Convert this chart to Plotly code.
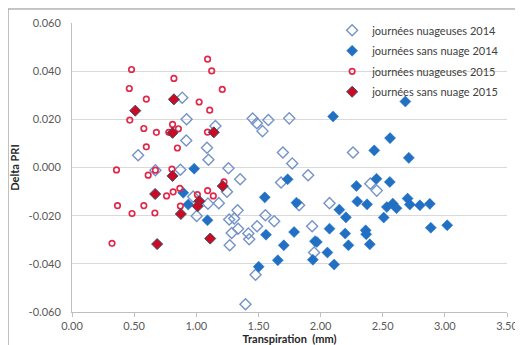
import plotly.graph_objects as go

# journées nuageuses 2014 (open blue diamonds)
x_nuag_2014 = [0.532, 0.887, 0.922, 1.154, 0.919, 1.086, 1.098, 0.872, 1.259, 1.454, 1.487, 1.580,
               1.748, 1.533, 1.697, 1.772, 1.353, 1.900, 1.682, 0.975, 1.094, 1.181, 1.247, 1.003,
               1.332, 1.265, 1.305, 1.336, 1.285, 1.419, 1.426, 1.269, 1.489, 1.556, 1.627, 1.477,
               1.396, 2.261, 2.400, 2.452, 2.072, 1.827, 1.932, 1.948, 0.671]
y_nuag_2014 = [0.0051, 0.0290, 0.0200, 0.0172, 0.0112, 0.0082, 0.0032, -0.0009, -0.0003, 0.0203,
               0.0184, 0.0197, 0.0204, 0.0151, 0.0062, 0.0017, -0.0049, -0.0032, -0.0062, -0.0121,
               -0.0150, -0.0148, -0.0101, -0.0201, -0.0178, -0.0216, -0.0212, -0.0254, -0.0272,
               -0.0274, -0.0298, -0.0323, -0.0244, -0.0198, -0.0223, -0.0445, -0.0568, 0.0062,
               -0.0067, -0.0096, -0.0148, -0.0157, -0.0244, -0.0353, -0.0011]

# journées sans nuage 2014 (filled blue diamonds)
x_sans_2014 = [2.101, 2.682, 2.559, 2.432, 2.710, 0.983, 1.735, 2.450, 2.557, 2.288, 2.296, 2.374,
               2.151, 2.204, 2.508, 2.533, 2.581, 2.611, 2.700, 2.718, 2.799, 2.879, 2.887, 3.019,
               2.072, 1.955, 1.970, 2.198, 2.363, 2.367, 2.224, 2.396, 2.055, 1.938, 2.109, 1.551,
               1.806, 1.561, 1.787, 1.704, 1.656, 1.502, 0.895, 0.935, 1.090]
y_sans_2014 = [0.0212, 0.0274, 0.0122, 0.0071, 0.0040, -0.0005, -0.0049, -0.0047, -0.0060, -0.0077,
               -0.0141, -0.0153, -0.0175, -0.0207, -0.0208, -0.0164, -0.0150, -0.0169, -0.0129,
               -0.0154, -0.0157, -0.0151, -0.0250, -0.0240, -0.0254, -0.0306, -0.0309, -0.0274,
               -0.0261, -0.0277, -0.0323, -0.0319, -0.0353, -0.0383, -0.0403, -0.0124, -0.0146,
               -0.0279, -0.0268, -0.0323, -0.0385, -0.0412, -0.0105, -0.0154, -0.0219]

# journées nuageuses 2015 (open red markers)
x_nuag_2015 = [0.479, 0.820, 0.461, 0.598, 0.465, 0.578, 0.679, 0.779, 0.809, 0.856, 0.598, 0.848,
               0.358, 0.671, 0.804, 0.613, 0.761, 0.814, 0.868, 0.366, 0.578, 0.483, 0.667, 0.872,
               0.322, 1.091, 1.124, 1.209, 1.023, 1.108, 1.090, 1.223, 1.091, 1.137, 1.009]
y_nuag_2015 = [0.0407, 0.0370, 0.0328, 0.0284, 0.0197, 0.0162, 0.0146, 0.0146, 0.0179, 0.0161,
               0.0086, 0.0081, -0.0010, -0.0011, -0.0007, -0.0032, -0.0118, -0.0101, -0.0087,
               -0.0158, -0.0158, -0.0191, -0.0189, -0.0160, -0.0315, 0.0450, 0.0401, 0.0324,
               0.0272, 0.0238, 0.0147, -0.0060, -0.0096, -0.0118, -0.0113]

# journées sans nuage 2015 (filled red diamonds)
x_sans_2015 = [0.509, 0.820, 0.809, 1.141, 0.809, 0.669, 0.876, 0.685, 1.112, 1.213, 1.025, 1.011]
y_sans_2015 = [0.0236, 0.0283, 0.0144, 0.0146, -0.0035, -0.0110, -0.0193, -0.0318, -0.0295,
               -0.0077, -0.0140, -0.0161]

x_ticks = [0, 0.5, 1.0, 1.5, 2.0, 2.5, 3.0, 3.5]
x_tick_labels = ["0.00", "0.50", "1.00", "1.50", "2.00", "2.50", "3.00", "3.50"]
y_ticks = [-0.06, -0.04, -0.02, 0.0, 0.02, 0.04, 0.06]
y_tick_labels = ["-0.060", "-0.040", "-0.020", "0.000", "0.020", "0.040", "0.060"]

FONT = "Lato, 'Open Sans', sans-serif"

fig = go.Figure()
fig.add_trace(go.Scatter(
    x=x_nuag_2014, y=y_nuag_2014, mode="markers", name="journées nuageuses 2014", legendgroup="a",
    marker=dict(symbol="diamond-open", size=8.5, color="#7493C8", line=dict(width=1.4, color="#7493C8"))))
fig.add_trace(go.Scatter(
    x=x_sans_2014, y=y_sans_2014, mode="markers", name="journées sans nuage 2014", legendgroup="b",
    marker=dict(symbol="diamond", size=8.5, color="#2170C4", line=dict(width=0.5, color="#2170C4"))))
fig.add_trace(go.Scatter(
    x=x_nuag_2015, y=y_nuag_2015, mode="markers", name="journées nuageuses 2015", legendgroup="c",
    marker=dict(symbol="circle-open", size=5.5, color="#E0294A", line=dict(width=1.7, color="#E0294A"))))
fig.add_trace(go.Scatter(
    x=x_sans_2015, y=y_sans_2015, mode="markers", name="journées sans nuage 2015", legendgroup="d",
    marker=dict(symbol="diamond", size=8.5, color="#CC0A22", line=dict(width=1, color="#34506F"))))

# the page body adds an 8 px offset, so the figure is sized to fill the rest of the window
fig.update_layout(
    width=515, height=337,
    margin=dict(l=64, r=16, t=15, b=33, autoexpand=False),
    paper_bgcolor="white", plot_bgcolor="white",
    font=dict(family=FONT, size=11, color="#595959"),
    showlegend=True,
    legend=dict(x=0.598, y=1.025, xanchor="left", yanchor="top", bgcolor="rgba(255,255,255,0)",
                font=dict(family=FONT, size=11, color="#404040"),
                tracegroupgap=1.5, itemsizing="trace", itemwidth=30),
    xaxis=dict(range=[0, 3.5], tickvals=x_ticks, ticktext=x_tick_labels, showgrid=False,
               zeroline=False, showline=True, linecolor="#BFBFBF", linewidth=1,
               ticks="outside", ticklen=4, tickcolor="#BFBFBF", ticklabelstandoff=0,
               title=dict(text="<b>Transpiration  (mm)</b>", standoff=2,
                          font=dict(family=FONT, size=11, color="#262626"))),
    yaxis=dict(range=[-0.06, 0.06], tickvals=y_ticks, ticktext=y_tick_labels, showgrid=True,
               gridcolor="#D9D9D9", gridwidth=1, zeroline=False, showline=True,
               linecolor="#BFBFBF", linewidth=1, ticks="", ticklabelstandoff=8,
               title=dict(text="<b>Delta PRI</b>", standoff=6,
                          font=dict(family=FONT, size=11, color="#262626"))),
    shapes=[
        # white box behind the legend text (hides gridlines like the reference)
        dict(type="rect", xref="paper", yref="paper", x0=0.667, x1=0.975, y0=0.735, y1=0.99,
             fillcolor="white", line=dict(width=0), layer="below"),
        dict(type="line", xref="paper", yref="paper", x0=-0.147, x1=1.1, y0=1.0485, y1=1.0485,
             line=dict(color="#8C8C8C", width=1)),
        dict(type="line", xref="paper", yref="paper", x0=-0.147, x1=-0.147, y0=1.0485, y1=-0.2,
             line=dict(color="#8C8C8C", width=1)),
    ],
)

fig.write_html("out.html")
